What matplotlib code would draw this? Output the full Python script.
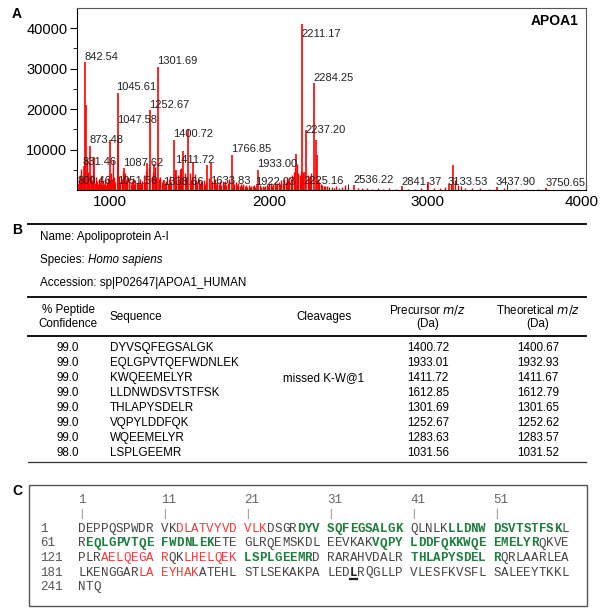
import matplotlib
matplotlib.use('Agg')
import matplotlib.pyplot as plt
import matplotlib.transforms as mtransforms

plt.rcParams['font.family'] = ['Liberation Sans', 'DejaVu Sans']

# ---- panel A: MS spectrum (m/z, intensity) ----
major_peaks = [
    (842.54, 31600), (846, 21000), (873.48, 10800), (898, 8200), (1000, 12300),
    (1045.61, 24000), (1047.58, 12000), (1050, 8000), (1087.62, 5400),
    (1233, 6700), (1252.67, 19750), (1275, 6500), (1301.69, 30400),
    (1400.72, 12300), (1411.72, 5000), (1461, 9600), (1493, 15000), (1524, 7000),
    (1612, 6200), (1633.83, 6700), (1766.85, 8600), (1933.00, 5000),
    (2170, 9000), (2211.17, 41000), (2225.16, 4500), (2237.20, 14800),
    (2284.25, 26400), (2296, 12300), (2302, 8600), (2536.22, 1200),
    (2841.37, 900), (3003, 2000), (3133.53, 1400), (3161, 6200),
    (3437.90, 700), (3750.65, 400), (800.46, 1500), (831.46, 6000),
    (1051.56, 3000), (1338.66, 2500), (1922.03, 1500),
]

background = [
    (803, 2400), (808, 3800), (812, 1900), (817, 5200), (821, 2600), (826, 3300),
    (834, 4100), (838, 2200), (851, 7600), (856, 2900), (861, 4400), (866, 1800),
    (879, 3600), (884, 2500), (889, 7900), (893, 2100), (905, 1700), (910, 3100),
    (916, 2300), (921, 1500), (928, 2700), (934, 1900), (941, 3400), (947, 1400),
    (953, 2200), (958, 1600), (964, 2800), (971, 1300), (977, 2000), (984, 3000),
    (990, 1700), (996, 2400), (1005, 4200), (1011, 2600), (1018, 7500), (1024, 3200),
    (1031, 2100), (1058, 3500), (1064, 1900), (1071, 2700), (1077, 4800), (1094, 4300),
    (1101, 2500), (1108, 3300), (1115, 1800), (1121, 2900), (1129, 1600), (1136, 2200),
    (1144, 3000), (1151, 1500), (1158, 2400), (1166, 1700), (1173, 2000), (1180, 1400),
    (1188, 2600), (1196, 1800), (1203, 2300), (1211, 3700), (1219, 2000), (1226, 4600),
    (1241, 5800), (1262, 3100), (1269, 4400), (1284, 5600), (1290, 3300), (1309, 2700),
    (1316, 3200), (1323, 1900), (1331, 2500), (1346, 1800), (1354, 2300), (1362, 1500),
    (1370, 2600), (1378, 3400), (1385, 2000), (1408, 5000), (1416, 2800), (1424, 3600),
    (1431, 2200), (1439, 5200), (1447, 5400), (1454, 3000), (1470, 4300), (1478, 2600),
    (1486, 3500), (1502, 4100), (1510, 2400), (1517, 3200), (1533, 3900), (1541, 2500),
    (1549, 1900), (1557, 2700), (1565, 1600), (1573, 2200), (1581, 1800), (1589, 2500),
    (1597, 1500), (1605, 2100), (1620, 2900), (1644, 2300), (1652, 1700), (1660, 2600),
    (1668, 1400), (1676, 2000), (1684, 1600), (1692, 2300), (1700, 1300), (1708, 1900),
    (1716, 1500), (1724, 2200), (1732, 1200), (1740, 1800), (1748, 2600), (1775, 2400),
    (1783, 1600), (1791, 2000), (1799, 1300), (1807, 1700), (1815, 1100), (1823, 1500),
    (1831, 1000), (1839, 1400), (1847, 900), (1856, 1300), (1864, 800), (1872, 1200),
    (1880, 700), (1889, 1100), (1897, 900), (1905, 1300), (1914, 800), (1944, 1200),
    (1952, 800), (1961, 1100), (1969, 700), (1977, 1000), (1986, 1400), (1994, 900),
    (2003, 1300), (2011, 1700), (2020, 1100), (2028, 1500), (2037, 1900), (2045, 1300),
    (2054, 1700), (2062, 2100), (2071, 1500), (2079, 2400), (2088, 1800), (2096, 2700),
    (2105, 2000), (2113, 3000), (2122, 2300), (2130, 3300), (2139, 2600), (2147, 3800),
    (2156, 4400), (2163, 5500), (2178, 6500), (2186, 4200), (2194, 3600), (2202, 4800),
    (2207, 3900), (2218, 4400), (2245, 3800), (2252, 2900), (2260, 3400), (2268, 4100),
    (2310, 2600), (2318, 2000), (2327, 1600), (2336, 1300), (2345, 1100), (2356, 900),
    (2368, 1000), (2380, 700), (2395, 800), (2410, 600), (2425, 900), (2440, 500),
    (2460, 700), (2478, 1200), (2500, 500), (2560, 600), (2590, 400), (2620, 500),
    (2650, 350), (2690, 450), (2720, 300), (2760, 400), (2800, 300), (2880, 350),
    (2920, 300), (2960, 400), (3040, 500), (3080, 600), (3110, 800), (3150, 1500),
    (3172, 2500), (3190, 1200), (3210, 900), (3240, 600), (3280, 400), (3330, 500),
    (3390, 300), (3480, 400), (3560, 300), (3620, 350), (3700, 250),
]

# peak labels: text, m/z, height where the label sits
peak_labels = [
    ("842.54", 842.54, 32800), ("1301.69", 1301.69, 31850), ("1045.61", 1045.61, 25400),
    ("1252.67", 1252.67, 21000), ("1047.58", 1047.58, 17300), ("873.48", 873.48, 12300),
    ("1400.72", 1400.72, 13800), ("831.46", 831.46, 6900), ("1087.62", 1087.62, 6700),
    ("1411.72", 1411.72, 7400), ("1766.85", 1766.85, 10100), ("1933.00", 1933.00, 6400),
    ("800.46", 800.46, 2200), ("1051.56", 1051.56, 2200), ("1338.66", 1338.66, 2000),
    ("1633.83", 1633.83, 2200), ("1922.03", 1922.03, 1900), ("2211.17", 2211.17, 38500),
    ("2284.25", 2284.25, 27650), ("2237.20", 2237.20, 14800), ("2225.16", 2225.16, 2200),
    ("2536.22", 2536.22, 2500), ("2841.37", 2841.37, 1900), ("3133.53", 3133.53, 1900),
    ("3437.90", 3437.90, 1900), ("3750.65", 3750.65, 1700),
]
x_ticks = [1000, 2000, 3000, 4000]

# ---- panel B: identification table ----
protein_name = "Apolipoprotein A-I"
species = "Homo sapiens"
accession = "sp|P02647|APOA1_HUMAN"
confidence = ["99.0", "99.0", "99.0", "99.0", "99.0", "99.0", "99.0", "98.0"]
peptides = ["DYVSQFEGSALGK", "EQLGPVTQEFWDNLEK", "KWQEEMELYR", "LLDNWDSVTSTFSK",
            "THLAPYSDELR", "VQPYLDDFQK", "WQEEMELYR", "LSPLGEEMR"]
cleavages = ["", "", "missed K-W@1", "", "", "", "", ""]
precursor = ["1400.72", "1933.01", "1411.72", "1612.85", "1301.69", "1252.67", "1283.63", "1031.56"]
theoretical = ["1400.67", "1932.93", "1411.67", "1612.79", "1301.65", "1252.62", "1283.57", "1031.52"]

# ---- panel C: sequence coverage ----
sequence = ("DEPPQSPWDRVKDLATVYVDVLKDSGRDYVSQFEGSALGKQLNLKLLDNWDSVTSTFSKL"
            "REQLGPVTQEFWDNLEKETEGLRQEMSKDLEEVKAKVQPYLDDFQKKWQEEMELYRQKVE"
            "PLRAELQEGARQKLHELQEKLSPLGEEMRDRARAHVDALRTHLAPYSDELRQRLAARLEA"
            "LKENGGARLAEYHAKATEHLSTLSEKAKPALEDLRQGLLPVLESFKVSFLSALEEYTKKL"
            "NTQ")
red_ranges = [(13, 23), (124, 131), (134, 140), (189, 195)]
green_ranges = [(28, 40), (46, 59), (62, 77), (97, 116), (141, 149), (161, 171)]
marked_residue = 214

RED = "#f23a3a"
GREEN = "#1f7d3d"
GREY = "#454545"

fig = plt.figure(figsize=(6, 6.13), dpi=100)

# spectrum axes (placed in pixel terms)
W, H = 600, 613
ax = fig.add_axes([77 / W, 1 - 190 / H, (586 - 77) / W, (190 - 8) / H])
bg_mz = [p[0] for p in background]
bg_int = [p[1] for p in background]
ax.vlines(bg_mz, 0, bg_int, color="red", lw=1.0)
ax.vlines([p[0] for p in major_peaks], 0, [p[1] for p in major_peaks], color="red", lw=1.2)
for txt, mz, yy in peak_labels:
    ax.text(mz - 6, yy, txt, fontsize=8, ha="left", va="center", color="#222222")
ax.set_xlim(790, 4000)
ax.set_ylim(0, 45000)
ax.set_xticks(x_ticks)
ax.set_xticklabels([])
ax.set_xticks([1500, 2500, 3500], minor=True)
ax.set_yticks([10000, 20000, 30000, 40000])
ax.set_yticks([5000, 15000, 25000, 35000], minor=True)
ax.tick_params(axis="x", which="both", direction="in", length=4)
ax.tick_params(axis="y", which="major", direction="out", length=5, labelsize=10.5, pad=2)
ax.tick_params(axis="y", which="minor", direction="out", length=3)
# x tick labels drawn as texts so the last one can stay inside the figure
xl_trans = mtransforms.blended_transform_factory(ax.transData, ax.transAxes)
for v in x_ticks:
    shift = -25 if v == x_ticks[-1] else 0
    ax.text(v + shift, -0.025, str(v), transform=xl_trans, ha="center", va="top",
            fontsize=11)
for s in ax.spines.values():
    s.set_linewidth(0.8)
    s.set_color("#555555")
ax.spines["left"].set_color("black")
ax.spines["bottom"].set_color("black")
ax.text(0.985, 0.93, "APOA1", transform=ax.transAxes, ha="right", va="center",
        fontsize=10, fontweight="bold")

# overlay axes in pixel coordinates for panels B and C
ov = fig.add_axes([0, 0, 1, 1], zorder=-1)
ov.set_xlim(0, W)
ov.set_ylim(H, 0)
ov.axis("off")

ov.text(12, 14, "A", fontsize=10, fontweight="bold", va="center")
ov.text(12, 230, "B", fontsize=10, fontweight="bold", va="center")
ov.text(12, 491, "C", fontsize=10, fontweight="bold", va="center")

fs = 8.4
ov.plot([28, 586], [224, 224], color="black", lw=1.3)
ov.text(40, 237, "Name: " + protein_name, fontsize=fs, va="center")
t = ov.text(40, 260, "Species: ", fontsize=fs, va="center")
ov.annotate(species, xycoords=t, xy=(1, 0.5), va="center", fontsize=fs, style="italic")
ov.text(40, 283, "Accession: " + accession, fontsize=fs, va="center")

ov.plot([28, 586], [297, 297], color="black", lw=1.3)
ov.text(68, 317, "% Peptide\nConfidence", fontsize=fs, ha="center", va="center",
        linespacing=1.15)
ov.text(110, 317, "Sequence", fontsize=fs, va="center")
ov.text(324, 317, "Cleavages", fontsize=fs, ha="center", va="center")
ov.text(428, 310, "Precursor $\\it{m/z}$", fontsize=fs, ha="center", va="center")
ov.text(428, 324, "(Da)", fontsize=fs, ha="center", va="center")
ov.text(538, 310, "Theoretical $\\it{m/z}$", fontsize=fs, ha="center", va="center")
ov.text(538, 324, "(Da)", fontsize=fs, ha="center", va="center")
ov.plot([28, 586], [336, 336], color="black", lw=1.3)

row0, dy = 348, 15.0
for i in range(len(peptides)):
    y = row0 + i * dy
    ov.text(68, y, confidence[i], fontsize=fs, ha="center", va="center")
    ov.text(110, y, peptides[i], fontsize=fs, va="center")
    ov.text(324, y, cleavages[i], fontsize=fs, ha="center", va="center")
    ov.text(428, y, precursor[i], fontsize=fs, ha="center", va="center")
    ov.text(538, y, theoretical[i], fontsize=fs, ha="center", va="center")
ov.plot([28, 586], [462, 462], color="#333333", lw=0.9)

# sequence box
ov.add_patch(plt.Rectangle((29, 485), 558, 121, fill=False, ec="#555555", lw=1.0))
mono = "Liberation Mono"
cw = 7.55
x0 = 78
ys = [529, 543.5, 558, 572.5, 587]
for k in range(6):
    xx = x0 + k * 11 * cw
    ov.text(xx, 500, str(1 + 10 * k), family=mono, fontsize=9, color="#666666", va="center")
    ov.text(xx, 514, "|", family=mono, fontsize=8, color="#888888", va="center")


def style_of(n):
    for a, b in red_ranges:
        if a <= n <= b:
            return RED, "normal"
    for a, b in green_ranges:
        if a <= n <= b:
            return GREEN, "bold"
    if n == marked_residue:
        return "#222222", "bold"
    return GREY, "normal"


for r in range(0, len(sequence), 60):
    row = r // 60
    ov.text(40, ys[row], str(r + 1), family=mono, fontsize=9, color="#555555", va="center")
    for c, aa in enumerate(sequence[r:r + 60]):
        n = r + c + 1
        col, wt = style_of(n)
        xx = x0 + (c + c // 10) * cw
        ov.text(xx, ys[row], aa, family=mono, fontsize=9, color=col, fontweight=wt,
                va="center")
        if n == marked_residue:
            ov.plot([xx, xx + cw - 0.5], [ys[row] + 6, ys[row] + 6], color="#222222", lw=1.6)

fig.savefig("out.png", dpi=100)
